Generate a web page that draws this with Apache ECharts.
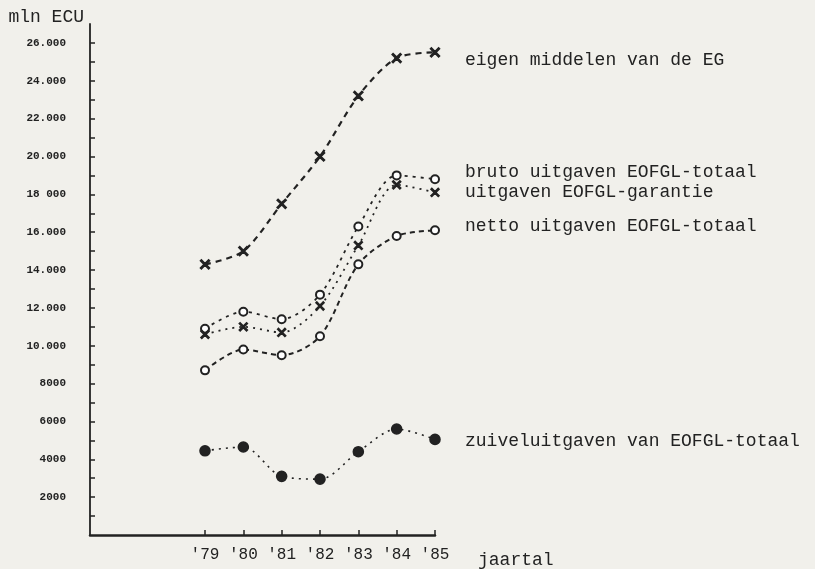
<!DOCTYPE html>
<html>
<head>
<meta charset="utf-8">
<script src="https://cdn.jsdelivr.net/npm/echarts@6/dist/echarts.min.js"></script>
<style>
  html, body { margin: 0; padding: 0; background: #f1f0eb; }
  #main { width: 815px; height: 569px; }
</style>
</head>
<body>
<div id="main"></div>
<script>
// jaren en waarden (mln ECU)
var years = [1979, 1980, 1981, 1982, 1983, 1984, 1985];
var yearLabels = ["'79", "'80", "'81", "'82", "'83", "'84", "'85"];
var eigenMiddelen = [14300, 15000, 17500, 20000, 23200, 25200, 25500];
var brutoTotaal = [10900, 11800, 11400, 12700, 16300, 19000, 18800];
var garantie = [10600, 11000, 10700, 12100, 15300, 18500, 18100];
var nettoTotaal = [8700, 9800, 9500, 10500, 14300, 15800, 16100];
var zuivel = [4450, 4650, 3100, 2950, 4400, 5600, 5050];
var yTicks = [2000, 4000, 6000, 8000, 10000, 12000, 14000, 16000, 18000, 20000, 22000, 24000, 26000];
var yTickLabels = ['2000', '4000', '6000', '8000', '10.000', '12.000', '14.000', '16.000', '18 000', '20.000', '22.000', '24.000', '26.000'];
var yMinorTicks = [1000, 2000, 3000, 4000, 5000, 6000, 7000, 8000, 9000, 10000, 11000, 12000, 13000,
  14000, 15000, 16000, 17000, 18000, 19000, 20000, 21000, 22000, 23000, 24000, 25000, 26000];

var ink = '#222';
var typeFont = '"Liberation Mono", "DejaVu Sans Mono", monospace';
var crossPath = 'path://M0,1L1,0L5,4L9,0L10,1L6,5L10,9L9,10L5,6L1,10L0,9L4,5Z';

function pairs(vals) {
  return years.map(function (y, i) { return [y, vals[i]]; });
}

function lineSeries(name, vals, symbol, size, dash, width, dy) {
  return {
    name: name,
    type: 'line',
    data: pairs(vals),
    smooth: 0.3,
    symbol: symbol,
    symbolSize: size,
    lineStyle: { color: ink, width: width, type: dash },
    itemStyle: { color: ink, borderColor: ink, borderWidth: 1.6 },
    endLabel: {
      show: true,
      formatter: name,
      distance: 0,
      offset: [30, dy],
      color: ink,
      fontFamily: typeFont,
      fontSize: 18
    },
    animation: false
  };
}

var myChart = echarts.init(document.getElementById('main'));
myChart.setOption({
  backgroundColor: '#f1f0eb',
  grid: { left: 90, right: 380, top: 24, bottom: 33 },
  xAxis: {
    type: 'value',
    min: 1976,
    max: 1985,
    name: 'jaartal',
    nameLocation: 'end',
    nameGap: 43,
    nameTextStyle: { color: ink, fontFamily: typeFont, fontSize: 18, align: 'left', verticalAlign: 'top', padding: [16, 0, 0, 0] },
    axisLine: { show: true, lineStyle: { color: ink, width: 2.5 } },
    axisTick: { show: true, inside: true, length: 5, customValues: years, lineStyle: { color: ink, width: 1.5 } },
    axisLabel: {
      customValues: years,
      margin: 12,
      color: ink,
      fontFamily: typeFont,
      fontSize: 16,
      formatter: function (v) { return yearLabels[years.indexOf(v)]; }
    },
    splitLine: { show: false }
  },
  yAxis: {
    type: 'value',
    min: 0,
    max: 27000,
    name: 'mln ECU',
    nameLocation: 'end',
    nameGap: -2,
    nameTextStyle: { color: ink, fontFamily: typeFont, fontSize: 18, align: 'right', verticalAlign: 'bottom', padding: [0, 6, 0, 0] },
    axisLine: { show: true, lineStyle: { color: ink, width: 1.8 } },
    axisTick: { show: true, inside: true, length: 5, customValues: yMinorTicks, lineStyle: { color: ink, width: 1.5 } },
    axisLabel: {
      customValues: yTicks,
      margin: 24,
      color: ink,
      fontFamily: typeFont,
      fontWeight: 'bold',
      fontSize: 11,
      formatter: function (v) { return yTickLabels[yTicks.indexOf(v)]; }
    },
    splitLine: { show: false }
  },
  series: [
    lineSeries('eigen middelen van de EG', eigenMiddelen, crossPath, 9, [6, 5], 2.2, 8),
    lineSeries('bruto uitgaven EOFGL-totaal', brutoTotaal, 'emptyCircle', 8, [3, 5], 1.8, -7),
    lineSeries('uitgaven EOFGL-garantie', garantie, crossPath, 8, [2, 5], 1.8, 0),
    lineSeries('netto uitgaven EOFGL-totaal', nettoTotaal, 'emptyCircle', 8, [5, 4], 2, -4),
    lineSeries('zuiveluitgaven van EOFGL-totaal', zuivel, 'circle', 10, [2, 5], 1.6, 2)
  ]
});
</script>
</body>
</html>
